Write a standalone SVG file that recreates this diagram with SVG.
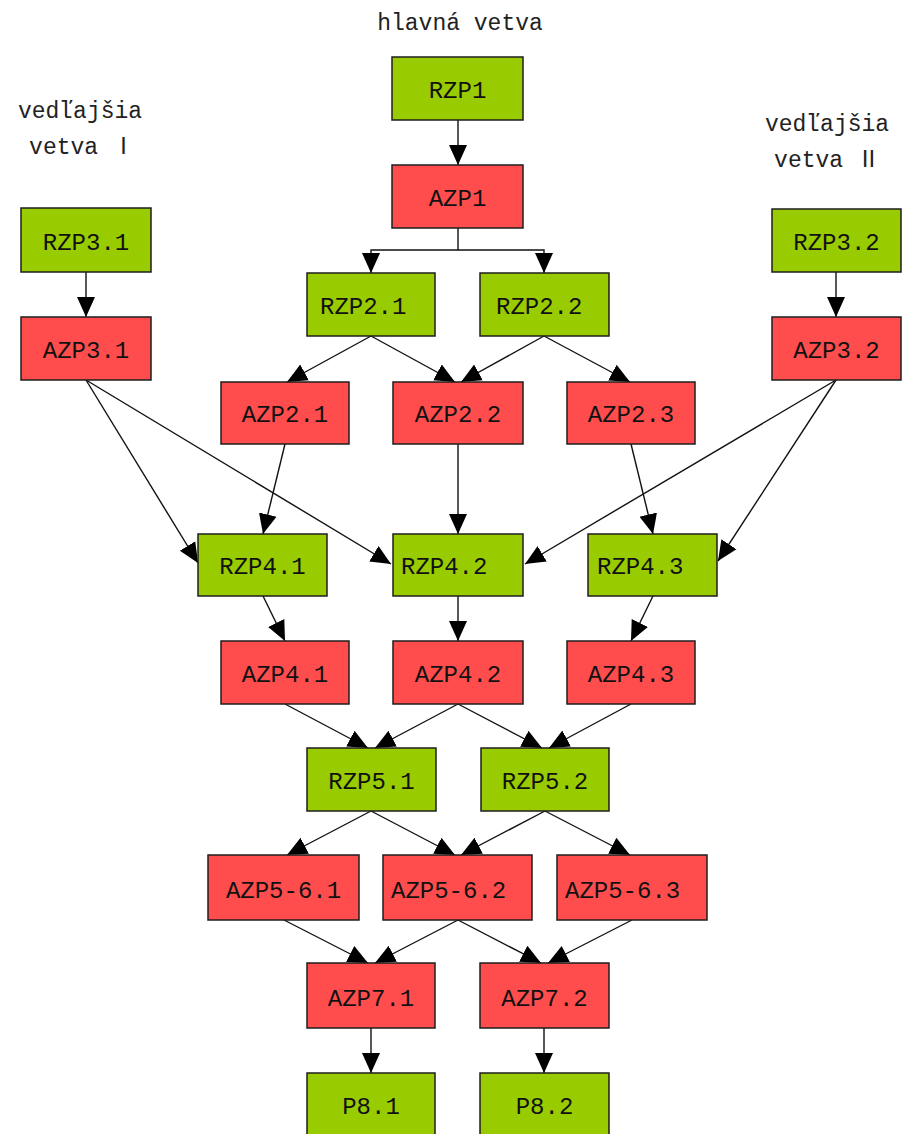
<svg xmlns="http://www.w3.org/2000/svg" width="910" height="1134" viewBox="0 0 910 1134">
  <style>
    .bg { fill: #ffffff; }
    .r { fill: #99cc00; stroke: #1e1e1e; stroke-width: 1.5; }
    .a { fill: #ff4d4d; stroke: #1e1e1e; stroke-width: 1.5; }
    .t { font-family: "Liberation Mono", "DejaVu Sans Mono", monospace; font-size: 24px; fill: #111111; text-anchor: middle; }
    .ts { text-anchor: start; }
    .lbl { font-family: "Liberation Mono", "DejaVu Sans Mono", "Noto Sans CJK SC", monospace; font-size: 23px; fill: #222222; text-anchor: middle; }
    .c { fill: none; stroke: #111111; stroke-width: 1.4; marker-end: url(#ah); }
    .cn { fill: none; stroke: #111111; stroke-width: 1.4; }
  </style>
  <defs>
    <marker id="ah" viewBox="0 0 20 20" refX="20" refY="10" markerWidth="20" markerHeight="20" markerUnits="userSpaceOnUse" orient="auto">
      <path d="M0,1 L20,10 L0,19 z" fill="#000000"/>
    </marker>
  </defs>

  <rect class="bg" x="0" y="0" width="910" height="1134"/>

  <!-- branch headings -->
  <g id="labels">
    <text class="lbl" x="460" y="30">hlavná vetva</text>
    <text class="lbl" x="80" y="118">vedľajšia</text>
    <text class="lbl" x="82" y="154">vetva Ⅰ</text>
    <text class="lbl" x="827" y="131">vedľajšia</text>
    <text class="lbl" x="827" y="167">vetva Ⅱ</text>
  </g>

  <!-- connectors -->
  <g id="connectors">
    <path class="c" d="M458,120 V165"/>
    <path class="c" d="M458,228 V250 H371 V273"/>
    <path class="c" d="M458,250 H544 V273"/>
    <path class="c" d="M86,272 V317"/>
    <path class="c" d="M836,272 V317"/>

    <path class="c" d="M371,336 L287,382"/>
    <path class="c" d="M371,336 L455,382"/>
    <path class="c" d="M544,336 L461,382"/>
    <path class="c" d="M544,336 L630,382"/>

    <path class="c" d="M86,380 L198,563"/>
    <path class="c" d="M86,380 L391,564"/>
    <path class="c" d="M285,444 L263,534"/>
    <path class="c" d="M458,444 V534"/>
    <path class="c" d="M631,444 L653,534"/>
    <path class="c" d="M836,380 L525,564"/>
    <path class="c" d="M836,380 L718,561"/>

    <path class="c" d="M263,596 L285,641"/>
    <path class="c" d="M458,596 V641"/>
    <path class="c" d="M653,596 L631,641"/>

    <path class="c" d="M285,704 L368,748"/>
    <path class="c" d="M458,704 L375,748"/>
    <path class="c" d="M458,704 L542,748"/>
    <path class="c" d="M631,704 L549,748"/>

    <path class="c" d="M371,811 L287,855"/>
    <path class="c" d="M371,811 L455,855"/>
    <path class="c" d="M545,811 L461,855"/>
    <path class="c" d="M545,811 L630,855"/>

    <path class="c" d="M284,920 L368,963"/>
    <path class="c" d="M458,920 L375,963"/>
    <path class="c" d="M458,920 L541,963"/>
    <path class="c" d="M632,920 L548,963"/>

    <path class="c" d="M371,1028 V1073"/>
    <path class="c" d="M544,1028 V1073"/>
  </g>

  <!-- main branch -->
  <g id="RZP1"><rect class="r" x="392" y="57" width="131" height="63"/><text class="t" x="457.5" y="98">RZP1</text></g>
  <g id="AZP1"><rect class="a" x="392" y="165" width="131" height="63"/><text class="t" x="457.5" y="206">AZP1</text></g>

  <!-- side branch I -->
  <g id="RZP3.1"><rect class="r" x="21" y="208" width="130" height="64"/><text class="t" x="86" y="250">RZP3.1</text></g>
  <g id="AZP3.1"><rect class="a" x="21" y="317" width="130" height="63"/><text class="t" x="86" y="358">AZP3.1</text></g>

  <!-- side branch II -->
  <g id="RZP3.2"><rect class="r" x="772" y="209" width="129" height="63"/><text class="t" x="836.5" y="250">RZP3.2</text></g>
  <g id="AZP3.2"><rect class="a" x="772" y="317" width="129" height="63"/><text class="t" x="836.5" y="358">AZP3.2</text></g>

  <g id="RZP2.1"><rect class="r" x="307" y="273" width="128" height="63"/><text class="t ts" x="320" y="314">RZP2.1</text></g>
  <g id="RZP2.2"><rect class="r" x="480" y="273" width="129" height="63"/><text class="t ts" x="496" y="314">RZP2.2</text></g>

  <g id="AZP2.1"><rect class="a" x="221" y="382" width="128" height="62"/><text class="t" x="285" y="422">AZP2.1</text></g>
  <g id="AZP2.2"><rect class="a" x="393" y="382" width="130" height="62"/><text class="t" x="458" y="422">AZP2.2</text></g>
  <g id="AZP2.3"><rect class="a" x="567" y="382" width="128" height="62"/><text class="t" x="631" y="422">AZP2.3</text></g>

  <g id="RZP4.1"><rect class="r" x="198" y="534" width="129" height="62"/><text class="t" x="262.5" y="574">RZP4.1</text></g>
  <g id="RZP4.2"><rect class="r" x="393" y="534" width="130" height="62"/><text class="t ts" x="401" y="574">RZP4.2</text></g>
  <g id="RZP4.3"><rect class="r" x="588" y="534" width="129" height="62"/><text class="t ts" x="597" y="574">RZP4.3</text></g>

  <g id="AZP4.1"><rect class="a" x="221" y="641" width="128" height="63"/><text class="t" x="285" y="682">AZP4.1</text></g>
  <g id="AZP4.2"><rect class="a" x="393" y="641" width="130" height="63"/><text class="t" x="458" y="682">AZP4.2</text></g>
  <g id="AZP4.3"><rect class="a" x="567" y="641" width="128" height="63"/><text class="t" x="631" y="682">AZP4.3</text></g>

  <g id="RZP5.1"><rect class="r" x="307" y="748" width="129" height="63"/><text class="t" x="371.5" y="789">RZP5.1</text></g>
  <g id="RZP5.2"><rect class="r" x="481" y="748" width="128" height="63"/><text class="t" x="545" y="789">RZP5.2</text></g>

  <g id="AZP5-6.1"><rect class="a" x="208" y="855" width="151" height="65"/><text class="t" x="283.5" y="898">AZP5-6.1</text></g>
  <g id="AZP5-6.2"><rect class="a" x="383" y="855" width="149" height="65"/><text class="t ts" x="391" y="898">AZP5-6.2</text></g>
  <g id="AZP5-6.3"><rect class="a" x="557" y="855" width="150" height="65"/><text class="t ts" x="565" y="898">AZP5-6.3</text></g>

  <g id="AZP7.1"><rect class="a" x="307" y="963" width="128" height="65"/><text class="t" x="371" y="1006">AZP7.1</text></g>
  <g id="AZP7.2"><rect class="a" x="480" y="963" width="129" height="65"/><text class="t" x="544.5" y="1006">AZP7.2</text></g>

  <g id="P8.1"><rect class="r" x="307" y="1073" width="128" height="65"/><text class="t" x="371" y="1114">P8.1</text></g>
  <g id="P8.2"><rect class="r" x="480" y="1073" width="129" height="65"/><text class="t" x="544.5" y="1114">P8.2</text></g>
</svg>
